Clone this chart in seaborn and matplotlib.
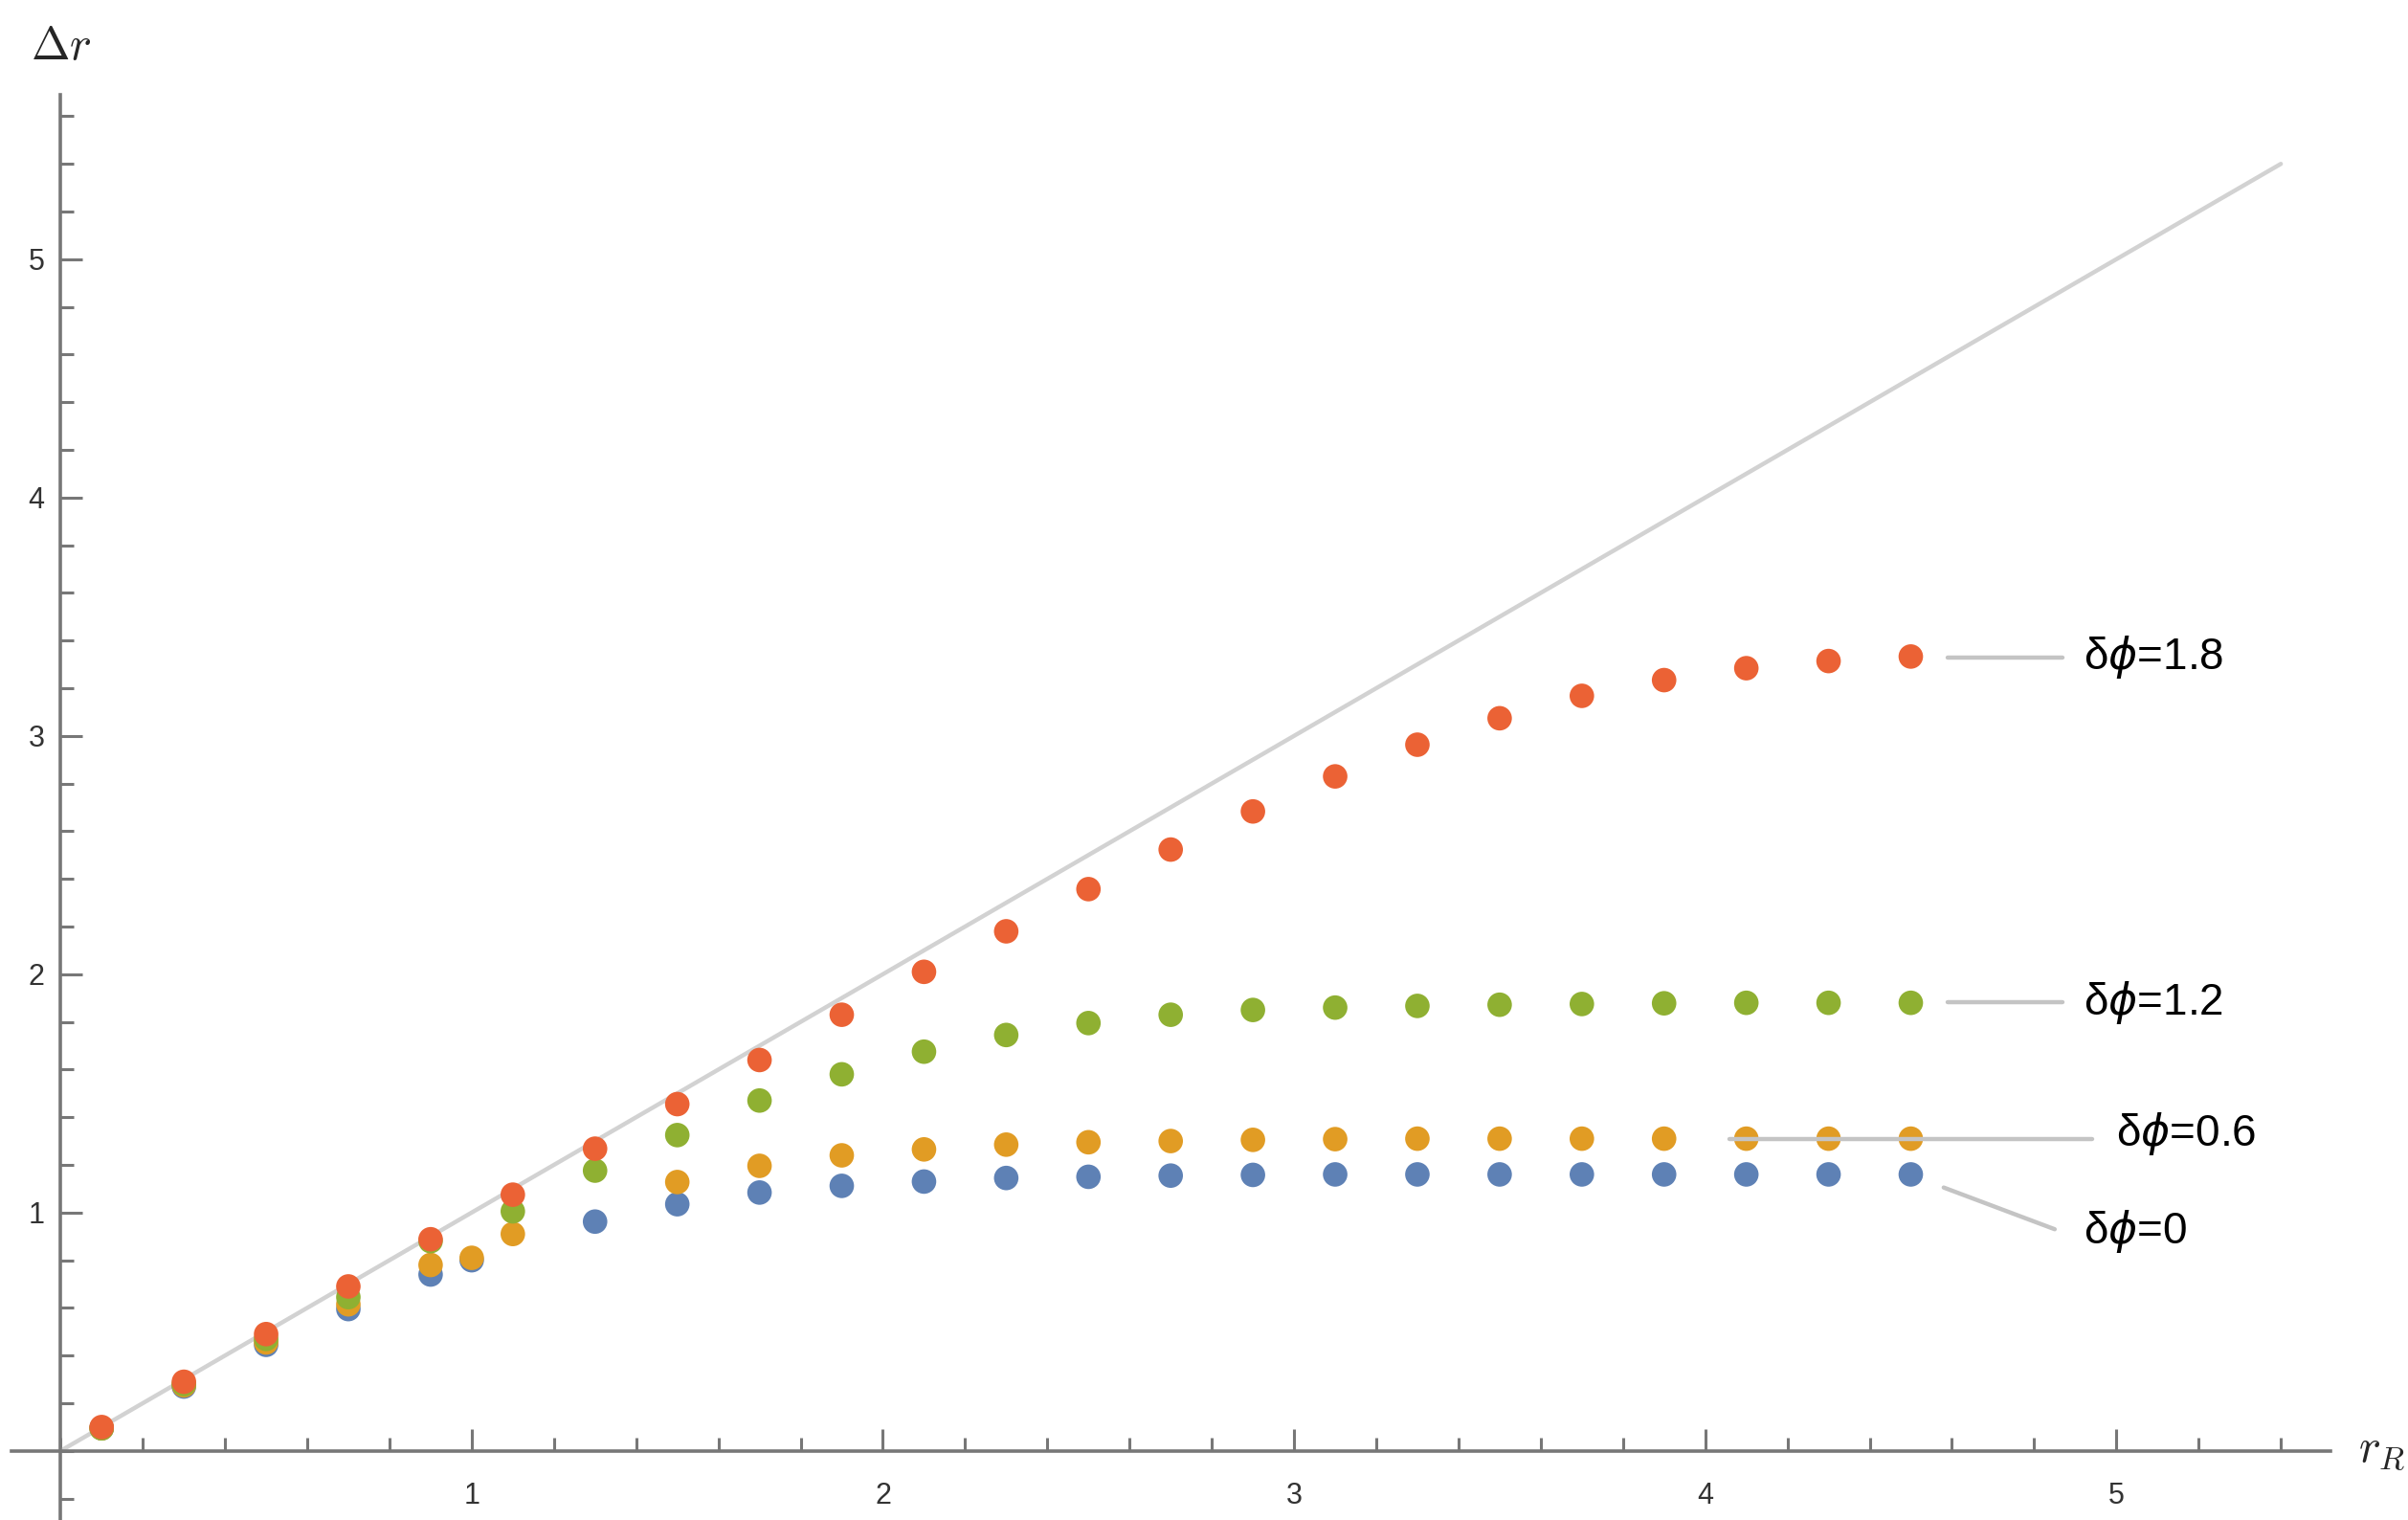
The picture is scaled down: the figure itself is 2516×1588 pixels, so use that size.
import numpy as np
import pandas as pd
import matplotlib
matplotlib.use('Agg')
import matplotlib.pyplot as plt
import seaborn as sns
from matplotlib.ticker import MultipleLocator, FixedLocator

# Data
blue_r = [0.1, 0.3, 0.5, 0.7, 0.9, 1.0, 1.3, 1.5, 1.7, 1.9, 2.1, 2.3, 2.5, 2.7, 2.9,
          3.1, 3.3, 3.5, 3.7, 3.9, 4.1, 4.3, 4.5]
blue_dr = [0.095, 0.27, 0.445, 0.595, 0.74, 0.80, 0.962, 1.035, 1.084, 1.112, 1.13, 1.145,
           1.15, 1.155, 1.158, 1.16, 1.16, 1.16, 1.16, 1.16, 1.16, 1.16, 1.16]

orange_r = [0.1, 0.3, 0.5, 0.7, 0.9, 1.0, 1.1, 1.5, 1.7, 1.9, 2.1, 2.3, 2.5, 2.7, 2.9,
            3.1, 3.3, 3.5, 3.7, 3.9, 4.1, 4.3, 4.5]
orange_dr = [0.095, 0.275, 0.455, 0.615, 0.78, 0.81, 0.91, 1.128, 1.196, 1.24, 1.265, 1.285,
             1.295, 1.30, 1.305, 1.308, 1.31, 1.31, 1.31, 1.31, 1.31, 1.31, 1.31]

green_r = [0.1, 0.3, 0.5, 0.7, 0.9, 1.1, 1.3, 1.5, 1.7, 1.9, 2.1, 2.3, 2.5, 2.7, 2.9,
           3.1, 3.3, 3.5, 3.7, 3.9, 4.1, 4.3, 4.5]
green_dr = [0.095, 0.28, 0.47, 0.645, 0.88, 1.005, 1.176, 1.325, 1.47, 1.58, 1.675, 1.745,
            1.795, 1.83, 1.85, 1.86, 1.867, 1.872, 1.875, 1.878, 1.88, 1.88, 1.88]

red_r = [0.1, 0.3, 0.5, 0.7, 0.9, 1.1, 1.3, 1.5, 1.7, 1.9, 2.1, 2.3, 2.5, 2.7, 2.9,
         3.1, 3.3, 3.5, 3.7, 3.9, 4.1, 4.3, 4.5]
red_dr = [0.10, 0.29, 0.49, 0.69, 0.888, 1.075, 1.268, 1.455, 1.64, 1.83, 2.01, 2.18,
          2.357, 2.523, 2.683, 2.83, 2.963, 3.074, 3.168, 3.234, 3.284, 3.314, 3.333]

series_names = ['δϕ=0', 'δϕ=0.6', 'δϕ=1.2', 'δϕ=1.8']
series_colors = ['#5E81B5', '#E19C24', '#8FB032', '#EB6235']

# reference line dr = r_R
diag_r = [0.0, 5.4]

# Build long-form table
frames = []
for name, r, dr in zip(series_names,
                       [blue_r, orange_r, green_r, red_r],
                       [blue_dr, orange_dr, green_dr, red_dr]):
    frames.append(pd.DataFrame({'r': r, 'dr': dr, 'series': name}))
df = pd.concat(frames, ignore_index=True)

sns.set_style('white')
plt.rcParams['font.family'] = ['Liberation Sans', 'DejaVu Sans']
plt.rcParams['mathtext.fontset'] = 'cm'

W, H = 2516, 1588
fig = plt.figure(figsize=(W / 100, H / 100), dpi=100)
ax = fig.add_axes([11.7 / W, 0.0, (2434.7 - 11.7) / W, 1489 / H])

ax.plot(diag_r, diag_r, color='#d2d2d2', lw=3.2, zorder=1)

sns.scatterplot(data=df, x='r', y='dr', hue='series', hue_order=series_names,
                palette=dict(zip(series_names, series_colors)), s=340,
                edgecolor='none', linewidth=0, legend=False, ax=ax, zorder=3)

ax.set_xlim(-0.12, 5.52)
ax.set_ylim(-0.29, 5.69)
ax.set_xlabel('')
ax.set_ylabel('')

# Mathematica-style axes crossing at the origin
for side in ['top', 'right']:
    ax.spines[side].set_visible(False)
for side in ['left', 'bottom']:
    ax.spines[side].set_position(('data', 0))
    ax.spines[side].set_color('#777777')
    ax.spines[side].set_linewidth(2.6)

ax.xaxis.set_major_locator(FixedLocator([1, 2, 3, 4, 5]))
ax.yaxis.set_major_locator(FixedLocator([1, 2, 3, 4, 5]))
ax.xaxis.set_minor_locator(MultipleLocator(0.2))
ax.yaxis.set_minor_locator(MultipleLocator(0.2))
ax.tick_params(which='both', direction='in', color='#777777', width=2.2,
               bottom=True, left=True, top=False, right=False)
ax.tick_params(which='major', length=16.5, labelsize=22, labelcolor='#333333')
ax.tick_params(which='minor', length=10)
ax.tick_params(axis='x', which='major', pad=23)
ax.tick_params(axis='y', which='major', pad=12)

# axis labels
ax.text(0.0, 5.89, r'$\Delta r$', fontsize=35, ha='center', va='center', clip_on=False)
ax.text(5.645, 0.0, r'$r_R$', fontsize=35, ha='center', va='center', clip_on=False)

# callouts with leader lines
callouts = [
    ('δ$\\phi$=1.8', (4.59, 3.33), (4.87, 3.33), (4.92, 3.33)),
    ('δ$\\phi$=1.2', (4.59, 1.884), (4.87, 1.884), (4.92, 1.88)),
    ('δ$\\phi$=0.6', (4.06, 1.31), (4.94, 1.31), (5.00, 1.33)),
    ('δ$\\phi$=0', (4.58, 1.105), (4.85, 0.93), (4.92, 0.92)),
]
for text, p0, p1, tp in callouts:
    ax.plot([p0[0], p1[0]], [p0[1], p1[1]], color='#c4c4c4', lw=3.2, zorder=4)
    ax.text(tp[0], tp[1], text, fontsize=33, ha='left', va='center',
            math_fontfamily='dejavusans', color='black')

fig.savefig('out.png', dpi=100)
plt.close(fig)
